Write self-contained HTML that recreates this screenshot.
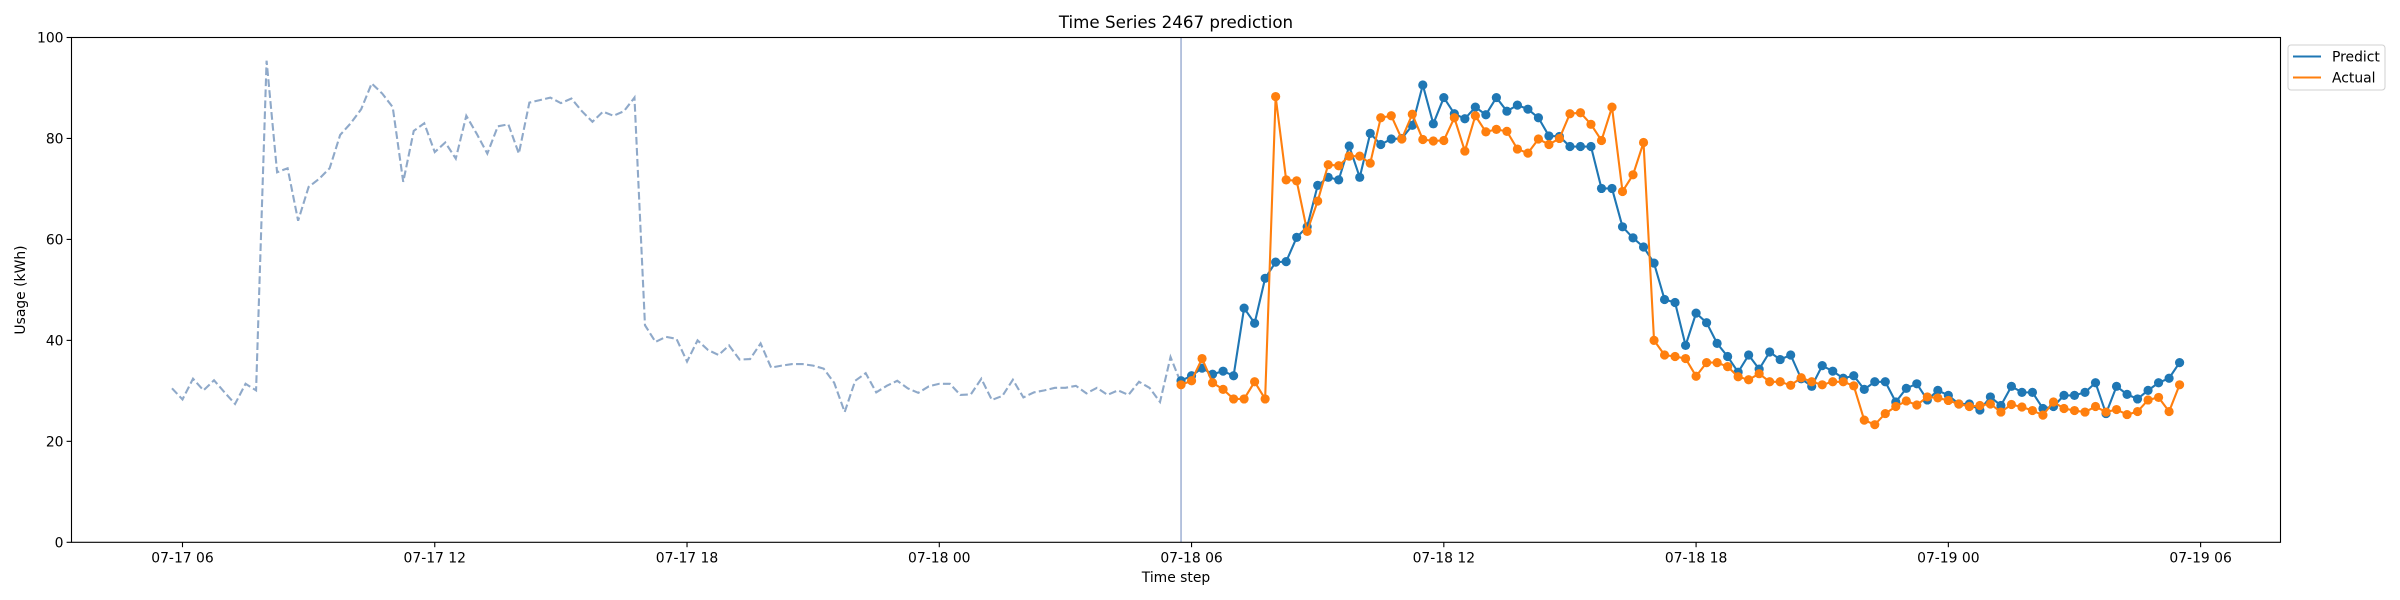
<!DOCTYPE html>
<html><head><meta charset="utf-8"><title>Time Series 2467 prediction</title>
<style>
html,body{margin:0;padding:0;background:#fff;}
svg{display:block;font-family:"DejaVu Sans","Liberation Sans",sans-serif;}
</style></head>
<body>
<svg id="chart" width="2400" height="600" viewBox="0 0 2400 600" xmlns="http://www.w3.org/2000/svg">
<rect x="0" y="0" width="2400" height="600" fill="#fff"/>
<text x="1176" y="28" font-size="16.7" text-anchor="middle" fill="#000">Time Series 2467 prediction</text>
<text x="1176" y="582" font-size="13.9" text-anchor="middle" fill="#000">Time step</text>
<text transform="translate(25,290) rotate(-90)" font-size="13.9" text-anchor="middle" fill="#000">Usage (kWh)</text>
<g id="plot"></g>
<g>
<rect x="2288" y="45" width="97" height="45" rx="3" fill="#fff" stroke="#d0d0d0" stroke-width="1"/>
<g>
<line x1="2293" y1="56.5" x2="2321" y2="56.5" stroke="#1f77b4" stroke-width="2.1"/>
<text x="2332" y="61.5" font-size="13.9" fill="#000">Predict</text></g>
<g>
<line x1="2293" y1="77.5" x2="2321" y2="77.5" stroke="#ff7f0e" stroke-width="2.1"/>
<text x="2332" y="82.5" font-size="13.9" fill="#000">Actual</text></g>
</g>
</svg>
<script>
const historyValues = [30.5,28.3,32.4,30.1,32.1,29.7,27.4,31.4,30.1,95.4,73.3,74.1,63.7,70.4,72.0,74.1,80.7,83.0,85.8,90.9,88.9,86.2,71.4,81.5,83.0,77.3,79.2,76.0,84.5,80.9,77.0,82.4,82.8,77.0,87.1,87.6,88.1,87.0,87.9,85.4,83.3,85.3,84.5,85.4,88.1,43.0,39.7,40.7,40.3,35.8,40.0,38.1,37.1,39.0,36.2,36.3,39.4,34.6,35.0,35.3,35.3,35.0,34.4,31.6,25.8,32.0,33.5,29.7,31.0,32.0,30.5,29.6,30.9,31.4,31.4,29.2,29.3,32.4,28.2,29.0,32.2,28.7,29.7,30.1,30.6,30.6,31.0,29.5,30.6,29.2,30.1,29.2,31.8,30.6,27.8,36.7,31.5];
const predictValues = [32.0,33.0,34.5,33.3,33.9,33.0,46.4,43.4,52.3,55.5,55.6,60.4,62.5,70.7,72.3,71.8,78.5,72.3,81.0,78.8,79.9,80.0,82.6,90.6,82.9,88.1,84.9,83.9,86.2,84.7,88.1,85.4,86.6,85.8,84.1,80.5,80.4,78.4,78.4,78.4,70.1,70.1,62.5,60.3,58.5,55.3,48.1,47.5,39.0,45.4,43.5,39.4,36.8,33.7,37.1,34.3,37.7,36.2,37.1,32.4,30.9,35.0,33.9,32.5,33.0,30.3,31.8,31.8,27.8,30.5,31.4,28.2,30.1,29.1,27.4,27.4,26.2,28.8,27.1,30.9,29.7,29.7,26.5,26.9,29.1,29.1,29.7,31.6,25.5,30.9,29.3,28.4,30.1,31.6,32.5,35.6];
const actualValues = [31.2,32.0,36.4,31.6,30.3,28.4,28.4,31.8,28.4,88.3,71.8,71.6,61.6,67.6,74.8,74.6,76.5,76.5,75.1,84.1,84.5,79.9,84.8,79.8,79.5,79.6,84.1,77.5,84.5,81.3,81.8,81.4,77.9,77.1,79.9,78.8,80.0,84.9,85.1,82.8,79.6,86.2,69.5,72.8,79.2,40.0,37.1,36.8,36.4,32.9,35.6,35.6,34.8,32.8,32.2,33.4,31.8,31.8,31.1,32.6,31.8,31.2,31.8,31.8,31.0,24.2,23.3,25.5,26.9,28.0,27.2,28.8,28.6,28.1,27.4,26.9,27.1,27.4,25.8,27.3,26.8,26.1,25.2,27.8,26.5,26.1,25.8,26.9,25.8,26.3,25.3,25.9,28.2,28.7,25.9,31.2];
const yTickLabels = ["0","20","40","60","80","100"];
const yTickValues = [0,20,40,60,80,100];
const xTickLabels = ["07-17 06","07-17 12","07-17 18","07-18 00","07-18 06","07-18 12","07-18 18","07-19 00","07-19 06"];
const xTickHours = [6,12,18,24,30,36,42,48,54]; // hours since 07-17 00:00
const historyStartHour = 5.75;   // 07-17 05:45
const forecastStartHour = 29.75; // 07-18 05:45
const stepHours = 0.25;

const L=71.5,R=2280.5,T=37.5,B=542.3;
const xMin=3.36, xMax=55.9;
function xs(h){return L+(h-xMin)/(xMax-xMin)*(R-L);}
function ys(v){return B-(v/100)*(B-T);}
const NS="http://www.w3.org/2000/svg";
const plot=document.getElementById('plot');
function mk(tag,attrs,parent){const e=document.createElementNS(NS,tag);for(const k in attrs)e.setAttribute(k,attrs[k]);(parent||plot).appendChild(e);return e;}

// history dashed
let d=historyValues.map((v,i)=>(i?'L':'M')+xs(historyStartHour+i*stepHours).toFixed(2)+' '+ys(v).toFixed(2)).join(' ');
const hist=mk('path',{d:d,fill:'none',stroke:'#8fa9c9','stroke-width':2.1,'stroke-dasharray':'7.7 3.3'});



// forecast start vertical line
const vl=mk('line',{x1:xs(forecastStartHour),x2:xs(forecastStartHour),y1:T,y2:B,stroke:'#9fb0d3','stroke-width':1.5});



function series(vals,color,name){
  const g=mk('g',{});
  
  
  const p=vals.map((v,i)=>(i?'L':'M')+xs(forecastStartHour+i*stepHours).toFixed(2)+' '+ys(v).toFixed(2)).join(' ');
  const ln=mk('path',{d:p,fill:'none',stroke:color,'stroke-width':2.1,'stroke-linejoin':'round'},g);
  
  
  vals.forEach((v,i)=>{
    const c=mk('circle',{cx:xs(forecastStartHour+i*stepHours),cy:ys(v),r:4.6,fill:color},g);
    
    
  });
}
series(predictValues,'#1f77b4','predict');
series(actualValues,'#ff7f0e','actual');

// axes frame
const fr=mk('rect',{x:L,y:T,width:R-L,height:B-T,fill:'none',stroke:'#000','stroke-width':1.1});



yTickValues.forEach((v,i)=>{
  const y=ys(v);
  const t=mk('line',{x1:L-4.9,x2:L,y1:y,y2:y,stroke:'#000','stroke-width':1.1});
  
  
  const tx=mk('text',{x:L-8,y:y+5,'font-size':13.9,'text-anchor':'end',fill:'#000'});
  tx.textContent=yTickLabels[i];
  
  
});
xTickHours.forEach((h,i)=>{
  const x=xs(h);
  const t=mk('line',{x1:x,x2:x,y1:B,y2:B+4.9,stroke:'#000','stroke-width':1.1});
  
  
  const tx=mk('text',{x:x,y:B+20,'font-size':13.9,'text-anchor':'middle',fill:'#000'});
  tx.textContent=xTickLabels[i];
  
  
});
</script>
</body></html>
